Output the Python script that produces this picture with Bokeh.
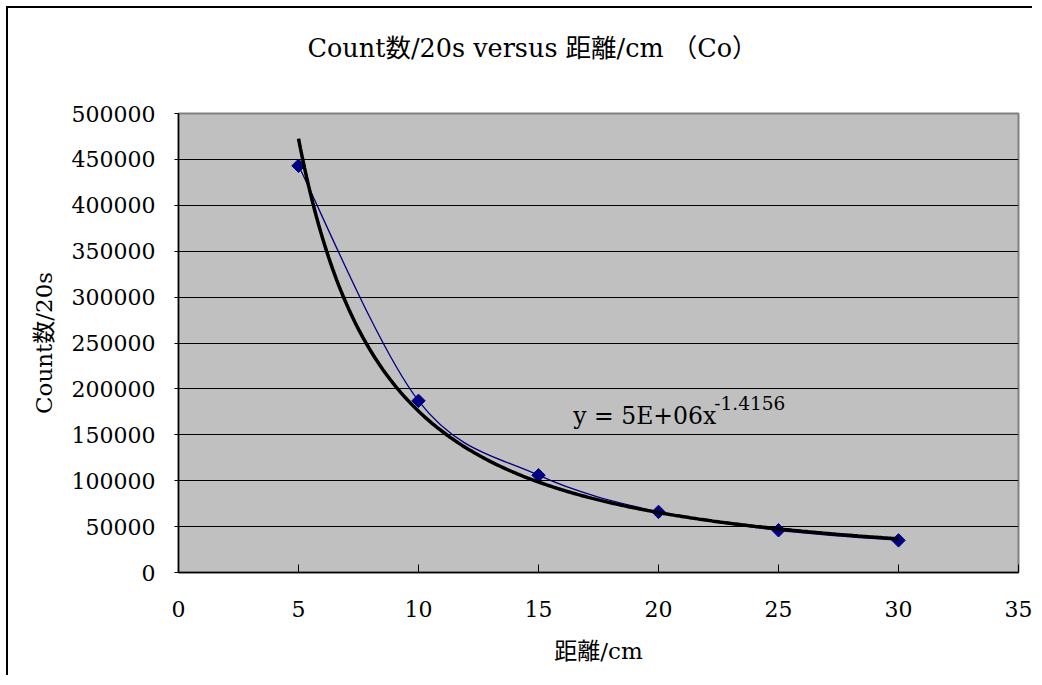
import numpy as np
from bokeh.plotting import figure
from bokeh.models import Range1d, Label, Title, BasicTickFormatter
from bokeh.embed import file_html
from bokeh.resources import INLINE

# ---- data ----
distance_cm = [5, 10, 15, 20, 25, 30]
counts_per_20s = [443000, 187000, 106000, 66000, 46000, 35000]
x_ticks = [0, 5, 10, 15, 20, 25, 30, 35]
y_ticks = [0, 50000, 100000, 150000, 200000, 250000, 300000, 350000, 400000, 450000, 500000]
title_text = "Count数/20s versus 距離/cm （Co）"
x_label = "距離/cm"
y_label = "Count数/20s"
eq_main = "y = 5E+06x"
eq_exp = "-1.4156"

FONT = "DejaVu Serif, Noto Sans CJK JP, Noto Sans CJK SC"

x = np.array(distance_cm, dtype=float)
y = np.array(counts_per_20s, dtype=float)

# power trendline fitted from the data (least squares in log space)
slope, intercept = np.polyfit(np.log(x), np.log(y), 1)
xs = np.linspace(x.min(), x.max(), 300)
ys = np.exp(intercept) * xs ** slope

# smooth (Catmull-Rom style) bezier control points for the data line
px = np.concatenate([[x[0]], x, [x[-1]]])
py = np.concatenate([[y[0]], y, [y[-1]]])
x0, y0, x1, y1, cx0, cy0, cx1, cy1 = [], [], [], [], [], [], [], []
for i in range(1, len(px) - 2):
    x0.append(px[i]); y0.append(py[i])
    x1.append(px[i + 1]); y1.append(py[i + 1])
    cx0.append(px[i] + (px[i + 1] - px[i - 1]) / 6.0)
    cy0.append(py[i] + (py[i + 1] - py[i - 1]) / 6.0)
    cx1.append(px[i + 1] - (px[i + 2] - px[i]) / 6.0)
    cy1.append(py[i + 1] - (py[i + 2] - py[i]) / 6.0)

p = figure(width=1026, height=669, output_backend="svg", toolbar_location=None,
           x_range=Range1d(0, 35), y_range=Range1d(0, 500000),
           min_border_left=170, min_border_right=16, min_border_top=105,
           min_border_bottom=105)
p.styles = {"margin-left": "6px", "margin-top": "6px",
            "border-left": "2px solid black", "border-top": "2px solid black"}

p.background_fill_color = "#C0C0C0"
p.border_fill_color = "white"
p.outline_line_color = "#808080"
p.outline_line_width = 2

# title: an empty spacer panel next to the frame, the real title above it
p.title.text = ""
p.add_layout(Title(text=" ", text_font=FONT, text_font_size="25.5px",
                   standoff=14), "above")
p.add_layout(Title(text=title_text, align="left", offset=129, standoff=10,
                   text_font=FONT, text_font_size="25.5px",
                   text_font_style="normal", text_color="black"), "above")

# grid
p.xgrid.grid_line_color = None
p.ygrid.ticker = y_ticks
p.ygrid.grid_line_color = "black"
p.ygrid.grid_line_width = 1

# axes
p.xaxis.ticker = x_ticks
p.yaxis.ticker = y_ticks
p.yaxis.formatter = BasicTickFormatter(use_scientific=False)
for ax in (p.xaxis, p.yaxis):
    ax.axis_line_color = "black"
    ax.axis_line_width = 1.5
    ax.major_tick_line_color = "black"
    ax.minor_tick_line_color = None
    ax.major_label_text_font = FONT
    ax.major_label_text_font_size = "22px"
    ax.major_label_text_color = "black"
    ax.axis_label_text_font = FONT
    ax.axis_label_text_font_size = "23px"
    ax.axis_label_text_font_style = "normal"
    ax.axis_label_text_color = "black"
p.xaxis.major_tick_in = 8
p.xaxis.major_tick_out = 0
p.xaxis.major_label_standoff = 28
p.xaxis.axis_label = x_label
p.xaxis.axis_label_standoff = 18
p.yaxis.major_tick_in = 0
p.yaxis.major_tick_out = 4
p.yaxis.major_label_standoff = 19
p.yaxis.axis_label = y_label
p.yaxis.axis_label_standoff = 12

# data line (smooth) and markers
p.bezier(x0=x0, y0=y0, x1=x1, y1=y1, cx0=cx0, cy0=cy0, cx1=cx1, cy1=cy1,
         line_color="#000080", line_width=1.3)
p.scatter(x, y, marker="square", angle=np.pi / 4, size=9.5,
          fill_color="#000080", line_color="#000080")

# power trendline
p.line(xs, ys, line_color="black", line_width=3.5)

# trendline equation
p.add_layout(Label(x=16.45, y=171000, text=eq_main, text_font=FONT,
                   text_font_size="23.5px", text_color="black",
                   text_baseline="alphabetic"))
p.add_layout(Label(x=16.45, y=171000, x_offset=141, y_offset=13, text=eq_exp,
                   text_font=FONT, text_font_size="18.5px", text_color="black",
                   text_baseline="alphabetic"))

open("out.html", "w").write(file_html(p, INLINE))
